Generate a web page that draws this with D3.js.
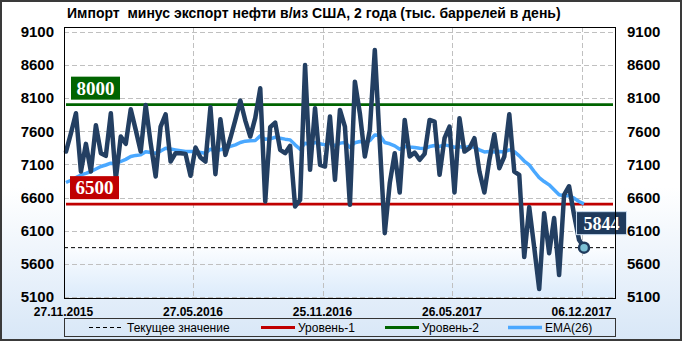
<!DOCTYPE html>
<html>
<head>
<meta charset="utf-8">
<script src="https://cdn.jsdelivr.net/npm/d3@7"></script>
<style>
  html, body { margin: 0; padding: 0; background: #fff; }
  svg { display: block; font-family: 'Liberation Sans', Arial, sans-serif; }
</style>
</head>
<body>
<svg id="chart"></svg>
<script>
// Full size of the svg element.
const WIDTH = 682;
const HEIGHT = 341;

// Plot area edges.
const PLOT_LEFT = 64;
const PLOT_RIGHT = 615;
const PLOT_TOP = 27;
const PLOT_BOTTOM = 297;

const TITLE = 'Импорт  минус экспорт нефти в/из США, 2 года (тыс. баррелей в день)';

// Weekly values, thousand barrels per day.
const netImports = [
  7293, 7570, 7870, 6992, 7409, 6992, 7690, 7268, 7228, 7870,
  6877, 7519, 7409, 7931, 7620, 7293, 7996, 7419, 6917, 7670,
  7855, 7143, 7268, 7268, 7258, 6927, 7353, 7203, 7143, 7961,
  6952, 7780, 7243, 7494, 7770, 8061, 7760, 7519, 7800, 8247,
  6540, 7660, 7730, 7318, 7268, 7379, 6465, 6565, 8598, 7017,
  7946, 7092, 7067, 7820, 6866, 7921, 7670, 6490, 8347, 7870,
  7218, 7620, 8824, 7419, 6063, 6816, 7268, 6676, 7770, 7218,
  7278, 7168, 7258, 7770, 7745, 6942, 7494, 7670, 6676, 7795,
  7293, 7343, 7494, 6992, 6676, 7168, 7554, 7042, 7218, 7855,
  6992, 6942, 5702, 6455, 5850, 5220, 6364, 5760, 6290, 5430,
  6641, 6770, 6340, 5963, 5844
];

// EMA(26) as drawn on the picture.
const emaValues = [
  6826, 6860, 6900, 6940, 6965, 6992, 7030, 7067, 7090, 7117,
  7110, 7143, 7175, 7218, 7235, 7243, 7290, 7280, 7268, 7300,
  7343, 7330, 7318, 7305, 7293, 7293, 7293, 7280, 7268, 7328,
  7303, 7320, 7343, 7370, 7394, 7430, 7450, 7455, 7460, 7529,
  7479, 7485, 7509, 7494, 7480, 7469, 7394, 7328, 7419, 7400,
  7429, 7410, 7394, 7420, 7379, 7420, 7429, 7358, 7425, 7444,
  7435, 7459, 7544, 7540, 7429, 7410, 7379, 7328, 7369, 7360,
  7355, 7343, 7338, 7369, 7385, 7370, 7394, 7379, 7358, 7370,
  7350, 7370, 7358, 7318, 7288, 7293, 7288, 7293, 7288, 7318,
  7293, 7228, 7150, 7092, 6992, 6900, 6841, 6791, 6716, 6641,
  6626, 6626, 6590, 6540, 6505
];

const level1 = 6500;
const level2 = 8000;
const currentValue = netImports[netImports.length - 1];

const tickIndexes = [0, 26, 52, 78, 104];
const tickLabels = ['27.11.2015', '27.05.2016', '25.11.2016', '26.05.2017', '06.12.2017'];
const yTicks = [5100, 5600, 6100, 6600, 7100, 7600, 8100, 8600, 9100];

const legendItems = [
  {label: 'Текущее значение', color: '#000', width: 1, dash: '4,3', x: 89},
  {label: 'Уровень-1', color: '#c00000', width: 3, dash: null, x: 261},
  {label: 'Уровень-2', color: '#006400', width: 3, dash: null, x: 385},
  {label: 'EMA(26)', color: '#4aa8ff', width: 3.5, dash: null, x: 508}
];

const svg = d3.select('#chart').attr('width', WIDTH).attr('height', HEIGHT);
const defs = svg.append('defs');

const outerGrad = defs.append('linearGradient')
  .attr('id', 'outer-bg').attr('x1', 0).attr('y1', 0).attr('x2', 0).attr('y2', 1);
outerGrad.append('stop').attr('offset', '0%').attr('stop-color', '#ffffff');
outerGrad.append('stop').attr('offset', '55%').attr('stop-color', '#ffffff');
outerGrad.append('stop').attr('offset', '100%').attr('stop-color', '#d8e7f7');

const lowGrad = defs.append('linearGradient')
  .attr('id', 'low-bg').attr('x1', 0).attr('y1', 0).attr('x2', 0).attr('y2', 1);
lowGrad.append('stop').attr('offset', '0%').attr('stop-color', '#fbfdff');
lowGrad.append('stop').attr('offset', '100%').attr('stop-color', '#dcebfb');

// Scales: one band per week, the point sits in the middle of its band.
const xScale = d3.scaleBand()
  .domain(d3.range(netImports.length))
  .range([63.5, 586.5]);
const xMid = i => xScale(i) + xScale.bandwidth() / 2;

const yScale = d3.scaleLinear().domain([5100, 9100]).range([PLOT_BOTTOM, 31.7]);

// Background and outer frame.
svg.append('rect')
  .attr('x', 1).attr('y', 1).attr('width', WIDTH - 2).attr('height', HEIGHT - 2)
  .attr('fill', 'url(#outer-bg)')
  .attr('stroke', '#3a3a3a').attr('stroke-width', 2);

svg.append('rect')
  .attr('x', PLOT_LEFT).attr('y', PLOT_TOP)
  .attr('width', PLOT_RIGHT - PLOT_LEFT).attr('height', PLOT_BOTTOM - PLOT_TOP)
  .attr('fill', '#fff');

// Shaded area below the current value.
svg.append('rect')
  .attr('x', PLOT_LEFT).attr('y', yScale(currentValue))
  .attr('width', PLOT_RIGHT - PLOT_LEFT).attr('height', PLOT_BOTTOM - yScale(currentValue))
  .attr('fill', 'url(#low-bg)');

// Title.
svg.append('text')
  .attr('x', 67).attr('y', 18)
  .attr('font-size', 14).attr('font-weight', 'bold').attr('fill', '#000')
  .attr('xml:space', 'preserve')
  .text(TITLE);

// Grid lines.
const grid = svg.append('g')
  .attr('stroke', '#c0c0c0').attr('stroke-width', 1).attr('stroke-dasharray', '5,3');
grid.selectAll('.hgrid')
  .data(yTicks)
  .join('line')
  .attr('x1', PLOT_LEFT).attr('x2', PLOT_RIGHT)
  .attr('y1', d => Math.round(yScale(d)) + 0.5).attr('y2', d => Math.round(yScale(d)) + 0.5);
grid.selectAll('.vgrid')
  .data(tickIndexes.slice(1))
  .join('line')
  .attr('x1', d => Math.round(xScale(d)) + 0.5).attr('x2', d => Math.round(xScale(d)) + 0.5)
  .attr('y1', PLOT_TOP).attr('y2', PLOT_BOTTOM);

// Y axes on both sides (labels only).
const yLeft = d3.axisLeft(yScale).tickValues(yTicks).tickFormat(d3.format('d'))
  .tickSize(0).tickPadding(10);
const yRight = d3.axisRight(yScale).tickValues(yTicks).tickFormat(d3.format('d'))
  .tickSize(0).tickPadding(12);
[svg.append('g').attr('transform', `translate(${PLOT_LEFT},0)`).call(yLeft),
 svg.append('g').attr('transform', `translate(${PLOT_RIGHT},0)`).call(yRight)]
  .forEach(g => {
    g.select('.domain').remove();
    g.selectAll('text')
      .attr('font-family', "'Liberation Sans', Arial, sans-serif")
      .attr('font-size', 15).attr('font-weight', 'bold').attr('fill', '#000');
  });

// X axis labels.
const xAxis = d3.axisBottom(xScale)
  .tickValues(tickIndexes)
  .tickFormat((d, i) => tickLabels[i])
  .tickSize(0).tickPadding(10)
  .offset(0);
const xg = svg.append('g').attr('transform', `translate(0,${PLOT_BOTTOM})`).call(xAxis);
xg.select('.domain').remove();
xg.selectAll('.tick').attr('transform', d => `translate(${xScale(d)},0)`);
xg.selectAll('text')
  .attr('font-family', "'Liberation Sans', Arial, sans-serif")
  .attr('font-size', 12).attr('font-weight', 'bold').attr('fill', '#000');

// Level lines.
svg.append('line')
  .attr('x1', PLOT_LEFT).attr('x2', PLOT_RIGHT)
  .attr('y1', yScale(currentValue)).attr('y2', yScale(currentValue))
  .attr('stroke', '#000').attr('stroke-width', 1).attr('stroke-dasharray', '4,3');
svg.append('line')
  .attr('x1', PLOT_LEFT + 2).attr('x2', PLOT_RIGHT - 2)
  .attr('y1', yScale(level1)).attr('y2', yScale(level1))
  .attr('stroke', '#c00000').attr('stroke-width', 2.8);
svg.append('line')
  .attr('x1', PLOT_LEFT + 2).attr('x2', PLOT_RIGHT - 2)
  .attr('y1', yScale(level2)).attr('y2', yScale(level2))
  .attr('stroke', '#006400').attr('stroke-width', 2.8);

// EMA and main series.
const emaLine = d3.line().x((d, i) => xMid(i)).y(d => yScale(d));
svg.append('path')
  .attr('d', emaLine(emaValues))
  .attr('fill', 'none').attr('stroke', '#4aa8ff').attr('stroke-width', 3.5)
  .attr('stroke-linejoin', 'round');

const mainLine = d3.line().x((d, i) => xMid(i)).y(d => yScale(d));
svg.append('path')
  .attr('d', mainLine(netImports))
  .attr('fill', 'none').attr('stroke', '#233f62').attr('stroke-width', 4.5)
  .attr('stroke-linejoin', 'round').attr('stroke-linecap', 'round');

// Level labels.
function levelLabel(value, x, fill) {
  const top = yScale(value) - 28;
  svg.append('rect')
    .attr('x', x).attr('y', top).attr('width', 49).attr('height', 23)
    .attr('fill', fill);
  svg.append('text')
    .attr('x', x + 24.5).attr('y', top + 18)
    .attr('text-anchor', 'middle')
    .attr('font-family', "'Liberation Serif', 'DejaVu Serif', serif")
    .attr('font-size', 19).attr('font-weight', 'bold').attr('fill', '#fff')
    .text(value);
}
levelLabel(level2, 71, '#006400');
levelLabel(level1, 70, '#c00000');

// Current value marker and label.
const lastIndex = netImports.length - 1;
svg.append('rect')
  .attr('x', xMid(lastIndex) - 7.5).attr('y', yScale(currentValue) - 36)
  .attr('width', 50).attr('height', 23)
  .attr('fill', '#1f3a5c').attr('stroke', '#c9dcef').attr('stroke-width', 1);
svg.append('text')
  .attr('x', xMid(lastIndex) + 17.5).attr('y', yScale(currentValue) - 18)
  .attr('text-anchor', 'middle')
  .attr('font-family', "'Liberation Serif', 'DejaVu Serif', serif")
  .attr('font-size', 18).attr('font-weight', 'bold').attr('fill', '#fff')
  .text(currentValue);
svg.append('circle')
  .attr('cx', xMid(lastIndex)).attr('cy', yScale(currentValue)).attr('r', 5)
  .attr('fill', '#7cc0d4').attr('stroke', '#1f3a5c').attr('stroke-width', 2.5);

// Plot frame on top.
svg.append('rect')
  .attr('x', PLOT_LEFT + 0.5).attr('y', PLOT_TOP + 0.5)
  .attr('width', PLOT_RIGHT - PLOT_LEFT).attr('height', PLOT_BOTTOM - PLOT_TOP + 1)
  .attr('fill', 'none').attr('stroke', '#000').attr('stroke-width', 1);

// Legend.
const legend = svg.append('g');
legend.append('rect')
  .attr('x', PLOT_LEFT + 0.5).attr('y', 318.5)
  .attr('width', PLOT_RIGHT - PLOT_LEFT).attr('height', 18)
  .attr('fill', 'none').attr('stroke', '#333').attr('stroke-width', 1);
const items = legend.selectAll('.item').data(legendItems).join('g');
items.append('line')
  .attr('x1', d => d.x).attr('x2', d => d.x + 34)
  .attr('y1', 327.5).attr('y2', 327.5)
  .attr('stroke', d => d.color).attr('stroke-width', d => d.width)
  .attr('stroke-dasharray', d => d.dash);
items.append('text')
  .attr('x', d => d.x + (d.dash ? 38 : 37)).attr('y', 332)
  .attr('font-size', 12).attr('fill', '#000')
  .text(d => d.label);
</script>
</body>
</html>
